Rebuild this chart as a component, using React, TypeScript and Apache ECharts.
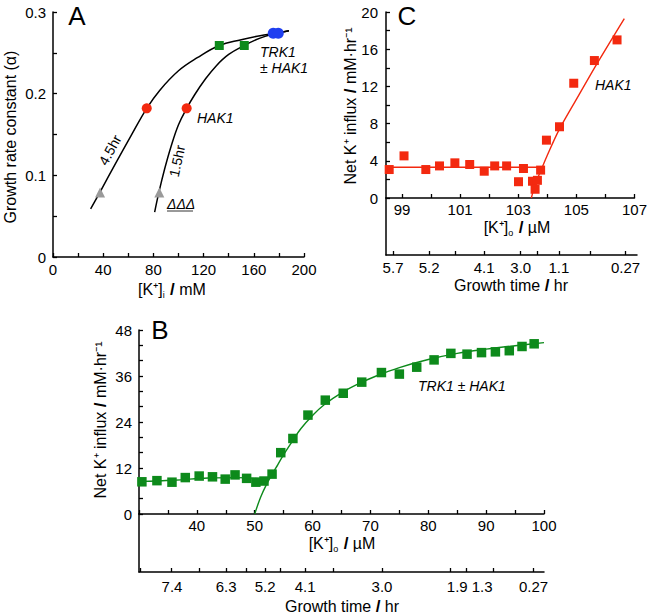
import React, { useEffect, useRef } from 'react';
import * as echarts from 'echarts';

// ---------- Panel A ----------
const aCurve45 = [[30, 0.059], [38, 0.081], [50, 0.115], [62, 0.148], [74.7, 0.182], [85, 0.204], [100, 0.228], [115, 0.244], [132.5, 0.259], [150, 0.266], [165, 0.271], [178, 0.274], [188, 0.277]];
const aCurve15 = [[81, 0.055], [84.5, 0.08], [89, 0.108], [94, 0.135], [100, 0.162], [106.5, 0.182], [113, 0.199], [121, 0.217], [130, 0.234], [140, 0.248], [152.4, 0.259], [165, 0.268], [178, 0.274], [188, 0.277]];
const aTriangles = [[37.5, 0.079], [84.7, 0.079]];
const aRedCircles = [[74.7, 0.182], [106.5, 0.182]];
const aGreenSquares = [[132.5, 0.259], [152.4, 0.259]];
const aBlueCircles = [[175.5, 0.274], [179.5, 0.274]];
const aXLabels = [0, 40, 80, 120, 160, 200];
const aYLabels = [0, 0.1, 0.2, 0.3];

// ---------- Panel B ----------
const bPoints = [
  [30.5, 8.4], [33.1, 8.7], [35.7, 8.3], [38.0, 9.5], [40.4, 9.9], [42.7, 9.7], [44.9, 9.1], [46.6, 10.2],
  [48.6, 9.3], [50.2, 8.3], [51.6, 8.6], [53.0, 10.4], [54.5, 16.0], [56.6, 19.7], [59.2, 25.8], [62.2, 29.7],
  [65.3, 31.5], [68.5, 34.4], [71.9, 36.9], [75.0, 36.5], [78.0, 38.3], [81.0, 40.2], [83.9, 41.9], [86.7, 41.7],
  [89.2, 42.1], [91.6, 42.3], [94.0, 42.6], [96.2, 43.7], [98.3, 44.4],
];
const bFlatLine = [[30, 8.5], [36, 8.8], [42, 9.4], [47, 9.5], [52.5, 9.0]];
const bRiseLine = [[50, 0], [51, 4.3], [52, 7.6], [53, 10.3], [54, 12.9], [55, 15.5], [56.5, 19.0], [58, 22.3], [60, 25.7], [62, 28.5], [65, 31.6], [68, 34.0], [71, 36.0], [75, 38.2], [80, 40.3], [85, 41.9], [90, 43.0], [95, 43.9], [100, 44.7]];
const bXLabels = [40, 50, 60, 70, 80, 90, 100];
const bYLabels = [0, 12, 24, 36, 48];
const bTimeLabelPos = [35.7, 45.05, 51.8, 58.7, 72.0, 85.0, 89.3, 98.2];
const bTimeLabels = ['7.4', '6.3', '5.2', '4.1', '3.0', '1.9', '1.3', '0.27'];
const bTimeTicks = [30.3, 35.6, 40.4, 45.05, 48.6, 51.8, 54.4, 58.7, 63.6, 72.0, 83.8, 86.6, 91.3, 98.2];

// ---------- Panel C ----------
const cPoints = [
  [98.56, 3.06], [99.07, 4.53], [99.82, 3.06], [100.29, 3.45], [100.82, 3.78], [101.33, 3.6], [101.83, 2.88],
  [102.19, 3.45], [102.6, 3.45], [103.01, 1.75], [103.18, 3.17], [103.49, 1.8], [103.58, 0.94], [103.66, 1.9],
  [103.77, 3.0], [103.97, 6.22], [104.42, 7.66], [104.91, 12.34], [105.62, 14.78], [106.4, 17.0],
];
const cFlatLine = [[98.45, 3.3], [103.85, 3.3]];
const cRiseLine = [[103.45, 0], [103.6, 1.6], [103.8, 3.1], [104.0, 4.6], [104.4, 7.3], [105, 10.6], [105.7, 14.4], [106.65, 19.3]];
const cXLabels = [99, 101, 103, 105, 107];
const cXTicks = [99, 100, 101, 102, 103, 104, 105, 106, 107];
const cYLabels = [0, 4, 8, 12, 16, 20];
const cTimeLabelPos = [98.69, 99.92, 101.79, 103.04, 104.34, 106.61];
const cTimeLabels = ['5.7', '5.2', '4.1', '3.0', '1.1', '0.27'];
const cTimeTicks = [98.69, 99.92, 100.8, 101.79, 103.04, 103.6, 104.34, 105.4, 106.61];

const FONT = '"Liberation Sans", Arial, Helvetica, sans-serif';
const BLACK = '#000';
const RED = '#f3290f';
const GREEN = '#0d8a1b';
const GRAY = '#9a9a9a';
const BLUE = '#1f3ff0';

const lookup = (pos: number[], labels: string[]) => (v: number) => {
  const i = pos.findIndex((p) => Math.abs(p - v) < 1e-6);
  return i >= 0 ? labels[i] : '';
};

const axisLineStyle = { show: true, onZero: false, lineStyle: { color: BLACK, width: 1.5 } };
const tickStyle = { show: true, inside: true, length: 4, lineStyle: { color: BLACK, width: 1.3 } };
const labelStyle = { color: BLACK, fontSize: 15, fontFamily: FONT };

function xVal(gridIndex: number, min: number, max: number, extra: any) {
  return {
    type: 'value', gridIndex, min, max, splitLine: { show: false },
    axisLine: axisLineStyle, ...extra,
  };
}

const titleRich = {
  n: { fontSize: 16, fontFamily: FONT, fill: BLACK, lineHeight: 20 },
  s: { fontSize: 9, fontFamily: FONT, fill: BLACK, lineHeight: 20, verticalAlign: 'bottom', padding: [7, 1, 0, 0] },
  sl: { fontSize: 17, fontFamily: FONT, fill: BLACK, fontWeight: 'bold', lineHeight: 20 },
};

function txt(text: string, x: number, y: number, opts: any = {}) {
  return {
    type: 'text', x, y, rotation: opts.rotation || 0, silent: true,
    style: {
      text, x: 0, y: 0,
      fontFamily: FONT, fontSize: opts.fontSize || 14, fontStyle: opts.italic ? 'italic' : 'normal',
      fill: BLACK, align: opts.align || 'center', verticalAlign: 'middle',
      rich: opts.rich,
    },
  };
}

const opaque = (color: string) => ({ color, opacity: 1 });

export default function App() {
  const ref = useRef<HTMLDivElement>(null);
  useEffect(() => {
    if (!ref.current) return;
    const chart = echarts.init(ref.current, null, { renderer: 'svg' });
    const option: any = {
      animation: false,
      backgroundColor: '#fff',
      grid: [
        { left: 53, top: 12, width: 251, height: 245 },
        { left: 386, top: 12, width: 251, height: 186 },
        { left: 386, top: 198, width: 251, height: 57 },
        { left: 139, top: 330, width: 405, height: 184 },
        { left: 139, top: 514, width: 405, height: 58 },
      ],
      xAxis: [
        xVal(0, 0, 200, {
          interval: 20, axisTick: tickStyle,
          axisLabel: { ...labelStyle, margin: 5, customValues: aXLabels },
        }),
        xVal(1, 98.45, 107, {
          axisTick: { ...tickStyle, customValues: cXTicks },
          axisLabel: { ...labelStyle, margin: 4, customValues: cXLabels },
        }),
        xVal(2, 98.45, 107, {
          axisTick: { ...tickStyle, customValues: cTimeTicks },
          axisLabel: { ...labelStyle, margin: 5, customValues: cTimeLabelPos, formatter: lookup(cTimeLabelPos, cTimeLabels) },
        }),
        xVal(3, 30, 100, {
          interval: 5, axisTick: tickStyle,
          axisLabel: { ...labelStyle, margin: 4, customValues: bXLabels },
        }),
        xVal(4, 30, 100, {
          axisTick: { ...tickStyle, customValues: bTimeTicks },
          axisLabel: { ...labelStyle, margin: 7, customValues: bTimeLabelPos, formatter: lookup(bTimeLabelPos, bTimeLabels) },
        }),
      ],
      yAxis: [
        {
          type: 'value', gridIndex: 0, min: 0, max: 0.3, interval: 0.05, splitLine: { show: false },
          axisLine: axisLineStyle, axisTick: tickStyle,
          axisLabel: { ...labelStyle, margin: 7, customValues: aYLabels, formatter: (v: number) => (v === 0 ? '0' : v.toFixed(1)) },
        },
        {
          type: 'value', gridIndex: 1, min: 0, max: 20, interval: 2, splitLine: { show: false },
          axisLine: axisLineStyle, axisTick: tickStyle,
          axisLabel: { ...labelStyle, margin: 8, customValues: cYLabels },
        },
        {
          type: 'value', gridIndex: 2, min: 0, max: 1, splitLine: { show: false },
          axisLine: axisLineStyle, axisTick: { show: false }, axisLabel: { show: false },
        },
        {
          type: 'value', gridIndex: 3, min: 0, max: 48, interval: 4, splitLine: { show: false },
          axisLine: axisLineStyle, axisTick: tickStyle,
          axisLabel: { ...labelStyle, margin: 7, customValues: bYLabels },
        },
        {
          type: 'value', gridIndex: 4, min: 0, max: 1, splitLine: { show: false },
          axisLine: axisLineStyle, axisTick: { show: false }, axisLabel: { show: false },
        },
      ],
      series: [
        // Panel A
        { type: 'line', xAxisIndex: 0, yAxisIndex: 0, data: aCurve45, smooth: 0.4, showSymbol: false, lineStyle: { color: BLACK, width: 1.5 }, z: 2 },
        { type: 'line', xAxisIndex: 0, yAxisIndex: 0, data: aCurve15, smooth: 0.4, showSymbol: false, lineStyle: { color: BLACK, width: 1.5 }, z: 2 },
        { type: 'scatter', xAxisIndex: 0, yAxisIndex: 0, data: aTriangles, symbol: 'triangle', symbolSize: 10, itemStyle: opaque(GRAY), z: 3 },
        { type: 'scatter', xAxisIndex: 0, yAxisIndex: 0, data: aRedCircles, symbol: 'circle', symbolSize: 10, itemStyle: opaque(RED), z: 3 },
        { type: 'scatter', xAxisIndex: 0, yAxisIndex: 0, data: aGreenSquares, symbol: 'rect', symbolSize: 9, itemStyle: opaque(GREEN), z: 3 },
        { type: 'scatter', xAxisIndex: 0, yAxisIndex: 0, data: aBlueCircles, symbol: 'circle', symbolSize: 11, itemStyle: opaque(BLUE), z: 3 },
        // Panel C
        { type: 'line', xAxisIndex: 1, yAxisIndex: 1, data: cFlatLine, showSymbol: false, lineStyle: { color: RED, width: 1.4 }, z: 2 },
        { type: 'line', xAxisIndex: 1, yAxisIndex: 1, data: cRiseLine, smooth: 0.3, showSymbol: false, lineStyle: { color: RED, width: 1.4 }, z: 2 },
        { type: 'scatter', xAxisIndex: 1, yAxisIndex: 1, data: cPoints, symbol: 'rect', symbolSize: 9, itemStyle: opaque(RED), z: 3 },
        // Panel B
        { type: 'line', xAxisIndex: 3, yAxisIndex: 3, data: bFlatLine, smooth: 0.4, showSymbol: false, lineStyle: { color: GREEN, width: 1.4 }, z: 2 },
        { type: 'line', xAxisIndex: 3, yAxisIndex: 3, data: bRiseLine, smooth: 0.4, showSymbol: false, lineStyle: { color: GREEN, width: 1.4 }, z: 2 },
        { type: 'scatter', xAxisIndex: 3, yAxisIndex: 3, data: bPoints, symbol: 'rect', symbolSize: 9.5, itemStyle: opaque(GREEN), z: 3 },
      ],
      graphic: [
        // panel letters
        txt('A', 77, 16, { fontSize: 26 }),
        txt('C', 407, 16, { fontSize: 26 }),
        txt('B', 160, 330, { fontSize: 26 }),
        // Panel A titles
        txt('Growth rate constant (α)', 10, 137, { fontSize: 16, rotation: Math.PI / 2 }),
        txt('{n|[K⁺]}{s|i}{n| }{sl|/}{n| mM}', 172, 289, { rich: titleRich }),
        // Panel A annotations
        txt('4.5hr', 110, 150, { rotation: 1.07 }),
        txt('1.5hr', 177, 161, { rotation: 1.35 }),
        txt('HAK1', 197, 118, { italic: true, align: 'left' }),
        txt('TRK1', 260, 52, { italic: true, align: 'left' }),
        txt('± HAK1', 260, 68, { italic: true, align: 'left' }),
        txt('ΔΔΔ', 167, 204, { italic: true, align: 'left' }),
        { type: 'line', silent: true, shape: { x1: 167, y1: 211, x2: 193, y2: 211 }, style: { stroke: BLACK, lineWidth: 0.8 } },
        // Panel C titles
        txt('{n|Net K⁺ influx }{sl|/}{n| mM·hr⁻¹}', 350, 106, { rotation: Math.PI / 2, rich: titleRich }),
        txt('{n|[K⁺]}{s|o}{n| }{sl|/}{n| µM}', 517, 227, { rich: titleRich }),
        txt('{n|Growth time }{sl|/}{n| hr}', 511, 285, { rich: titleRich }),
        txt('HAK1', 595, 85, { italic: true, align: 'left' }),
        // Panel B titles
        txt('{n|Net K⁺ influx }{sl|/}{n| mM·hr⁻¹}', 100, 420, { rotation: Math.PI / 2, rich: titleRich }),
        txt('{n|[K⁺]}{s|o}{n| }{sl|/}{n| µM}', 342, 543, { rich: titleRich }),
        txt('{n|Growth time }{sl|/}{n| hr}', 342, 606, { rich: titleRich }),
        txt('TRK1 ± HAK1', 418, 386, { italic: true, align: 'left' }),
      ],
    };
    chart.setOption(option);
    return () => chart.dispose();
  }, []);
  return (
    <div
      ref={ref}
      style={{ position: 'fixed', left: 0, top: 0, width: 650, height: 615, background: '#fff' }}
    />
  );
}
